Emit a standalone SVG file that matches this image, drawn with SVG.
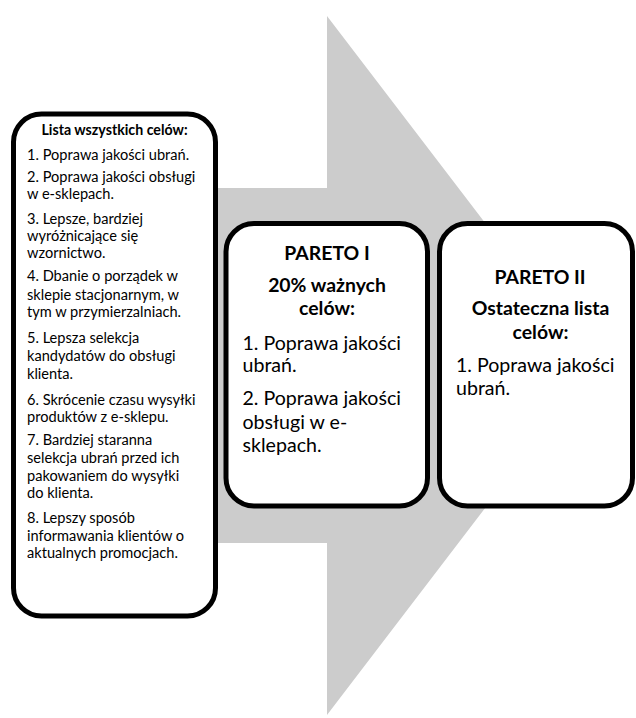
<svg xmlns="http://www.w3.org/2000/svg" width="636" height="718" viewBox="0 0 636 718">
  <style>
    .box { fill: #ffffff; stroke: #000000; stroke-width: 5; }
    .t { font-family: Lato, "Liberation Sans", sans-serif; fill: #000000; }
    .s { font-size: 14.6px; }
    .sb { font-size: 14.2px; font-weight: bold; }
    .l { font-size: 19.6px; }
    .lb { font-size: 19.4px; font-weight: bold; }
    .arrow { fill: #cccccc; }
  </style>
  <rect width="636" height="718" fill="#ffffff"/>
  <g id="connectors">
    <polygon class="arrow" points="40,188 327,188 327,16 594,365.5 327,715 327,543 40,543"/>
  </g>
  <g id="node-all">
    <rect class="box" x="13.5" y="114" width="202" height="502" rx="28" ry="28"/>
    <text class="t sb" x="114.5" y="134.5" text-anchor="middle">Lista wszystkich celów:</text>
    <g class="t s">
      <text x="27" y="159.5">1. Poprawa jakości ubrań.</text>
      <text x="27" y="182">2. Poprawa jakości obsługi</text>
      <text x="27" y="199">w e-sklepach.</text>
      <text x="27" y="223.5">3. Lepsze, bardziej</text>
      <text x="27" y="240.5">wyróżnicające się</text>
      <text x="27" y="257.5">wzornictwo.</text>
      <text x="27" y="281">4. Dbanie o porządek w</text>
      <text x="27" y="299.5">sklepie stacjonarnym, w</text>
      <text x="27" y="317">tym w przymierzalniach.</text>
      <text x="27" y="342.5">5. Lepsza selekcja</text>
      <text x="27" y="360.5">kandydatów do obsługi</text>
      <text x="27" y="378.5">klienta.</text>
      <text x="27" y="404.5">6. Skrócenie czasu wysyłki</text>
      <text x="27" y="422">produktów z e-sklepu.</text>
      <text x="27" y="444.5">7. Bardziej staranna</text>
      <text x="27" y="462.5">selekcja ubrań przed ich</text>
      <text x="27" y="480.5">pakowaniem do wysyłki</text>
      <text x="27" y="497.5">do klienta.</text>
      <text x="27" y="522.5">8. Lepszy sposób</text>
      <text x="27" y="540.5">informawania klientów o</text>
      <text x="27" y="557.5">aktualnych promocjach.</text>
    </g>
  </g>
  <g id="node-pareto1">
    <rect class="box" x="226" y="223.5" width="201.5" height="282.5" rx="28" ry="28"/>
    <g class="t lb" text-anchor="middle">
      <text x="327" y="260">PARETO I</text>
      <text x="327" y="291.5">20% ważnych</text>
      <text x="327" y="315">celów:</text>
    </g>
    <g class="t l">
      <text x="242.5" y="350">1. Poprawa jakości</text>
      <text x="242.5" y="371.5">ubrań.</text>
      <text x="242.5" y="405">2. Poprawa jakości</text>
      <text x="242.5" y="428.5">obsługi w e-</text>
      <text x="242.5" y="451.5">sklepach.</text>
    </g>
  </g>
  <g id="node-pareto2">
    <rect class="box" x="439.5" y="223.5" width="193" height="282.5" rx="28" ry="28"/>
    <g class="t lb" text-anchor="middle">
      <text x="540" y="284">PARETO II</text>
      <text x="540.5" y="315">Ostateczna lista</text>
      <text x="540.5" y="338.5">celów:</text>
    </g>
    <g class="t l">
      <text x="456" y="371.5">1. Poprawa jakości</text>
      <text x="456" y="395">ubrań.</text>
    </g>
  </g>
</svg>
